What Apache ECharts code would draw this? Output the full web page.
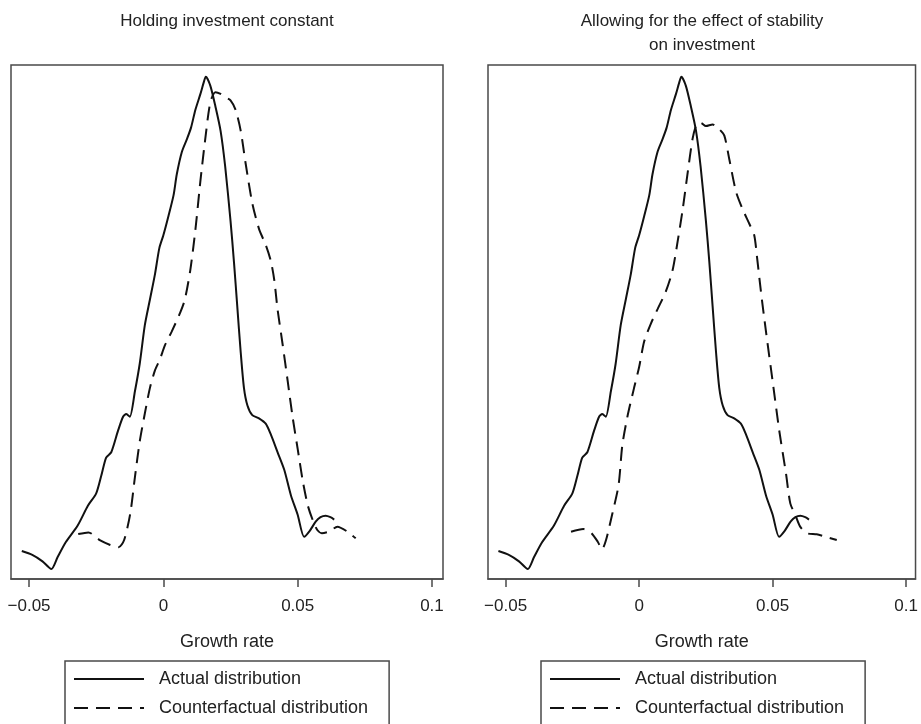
<!DOCTYPE html>
<html>
<head>
<meta charset="utf-8">
<title>Growth rate distributions</title>
<script src="https://cdn.jsdelivr.net/npm/echarts@6/dist/echarts.min.js"></script>
<style>
  html, body { margin: 0; padding: 0; background: #ffffff; }
  #chart { width: 921px; height: 724px; }
</style>
</head>
<body>
<div id="chart"></div>
<script>
// Panel titles
const panelTitles = [
  'Holding investment constant',
  'Allowing for the effect of stability\non investment'
];
const seriesNames = ['Actual distribution', 'Counterfactual distribution'];
const xTicks = [-0.05, 0, 0.05, 0.1];
const xAxisName = 'Growth rate';

// Kernel density of observed growth rates: [growth rate, density]
const actualDensity = [
  [-0.0527, 1.74], [-0.0488, 1.5], [-0.045, 1.1], [-0.0417, 0.62], [-0.0394, 1.35],
  [-0.0363, 2.3], [-0.0319, 3.33], [-0.0281, 4.56], [-0.025, 5.33], [-0.0231, 6.44],
  [-0.0213, 7.56], [-0.0194, 7.89], [-0.0169, 9.22], [-0.015, 10.1], [-0.0138, 10.27],
  [-0.0125, 10.1], [-0.0106, 11.67], [-0.0088, 13.4], [-0.0069, 15.8], [-0.005, 17.4],
  [-0.0031, 19.0], [-0.0015, 20.6], [0, 21.4], [0.0019, 22.6], [0.0038, 23.9],
  [0.005, 25.2], [0.0069, 26.6], [0.0088, 27.4], [0.0103, 28.1], [0.0119, 29.2],
  [0.0138, 30.2], [0.015, 30.9], [0.0158, 31.27], [0.0175, 30.7], [0.0194, 29.4],
  [0.0213, 27.9], [0.023, 25.7], [0.025, 22.3], [0.0263, 19.7], [0.0275, 17.0],
  [0.0288, 14.1], [0.03, 11.9], [0.0313, 10.8], [0.0331, 10.2], [0.0356, 10.0],
  [0.0381, 9.67], [0.04, 9.0], [0.0425, 7.9], [0.045, 6.8], [0.0475, 5.2],
  [0.05, 4.0], [0.0524, 2.63], [0.0545, 3.0], [0.0567, 3.57], [0.0585, 3.85],
  [0.0604, 3.94], [0.0622, 3.85], [0.0636, 3.7]
];

// Counterfactual density, investment held constant
const counterfactualFixed = [
  [-0.0317, 2.8], [-0.0279, 2.9], [-0.0235, 2.4], [-0.0198, 2.12], [-0.0167, 1.97],
  [-0.0146, 2.43], [-0.0123, 4.1], [-0.0106, 6.33], [-0.0088, 8.56], [-0.0069, 10.3],
  [-0.005, 11.9], [-0.0031, 13.0], [-0.0013, 13.67], [0.0006, 14.56], [0.0031, 15.4],
  [0.0063, 16.6], [0.008, 17.4], [0.01, 19.2], [0.0119, 21.7], [0.0138, 24.8],
  [0.0156, 27.4], [0.0175, 29.7], [0.0194, 30.3], [0.0213, 30.2], [0.023, 30.0],
  [0.025, 29.8], [0.0269, 29.2], [0.0288, 27.9], [0.0306, 25.9], [0.0331, 23.4],
  [0.0356, 21.8], [0.0381, 20.8], [0.04, 19.8], [0.0413, 18.6], [0.0425, 16.8],
  [0.0444, 14.6], [0.0463, 12.3], [0.0481, 10.1], [0.05, 8.1], [0.0519, 6.1],
  [0.0538, 4.56], [0.0556, 3.67], [0.0573, 3.05], [0.059, 2.85], [0.0617, 2.95],
  [0.0648, 3.26], [0.0685, 2.95], [0.0716, 2.53]
];

// Counterfactual density, investment responding to stability
const counterfactualStability = [
  [-0.0255, 2.94], [-0.0209, 3.11], [-0.018, 2.88], [-0.0155, 2.32], [-0.0139, 1.85],
  [-0.0124, 2.43], [-0.01, 4.09], [-0.0077, 5.85], [-0.0063, 8.33], [-0.0044, 10.1],
  [-0.0019, 11.9], [0, 13.2], [0.0019, 14.8], [0.0044, 15.9], [0.0069, 16.8],
  [0.01, 17.9], [0.0125, 19.2], [0.0144, 21.0], [0.0163, 23.0], [0.0181, 25.2],
  [0.02, 27.4], [0.0215, 28.3], [0.0231, 28.4], [0.025, 28.2], [0.0275, 28.3],
  [0.03, 28.0], [0.0319, 27.6], [0.0338, 26.1], [0.0363, 24.1], [0.0388, 23.0],
  [0.0413, 22.1], [0.0431, 21.4], [0.0441, 20.1], [0.0456, 17.9], [0.0475, 15.4],
  [0.05, 12.3], [0.0525, 9.2], [0.055, 6.56], [0.0566, 4.71], [0.0585, 3.98],
  [0.0603, 3.26], [0.0628, 2.85], [0.0665, 2.78], [0.0697, 2.63], [0.074, 2.43]
];

const FONT = '"Liberation Sans", Arial, Helvetica, sans-serif';
const INK = '#111111';
const FRAME = '#4a4a4a';
const DASH = [14, 8];

const chart = echarts.init(document.getElementById('chart'), null, { renderer: 'canvas' });

function fmtTick(v) {
  if (v === 0) return '0';
  return (v < 0 ? '\u2212' : '') + String(Math.abs(v));
}

function xAxisFor(gridIndex, min, max) {
  return {
    type: 'value',
    gridIndex: gridIndex,
    min: min,
    max: max,
    name: xAxisName,
    nameLocation: 'middle',
    nameGap: 54,
    nameTextStyle: { fontFamily: FONT, fontSize: 18, color: '#222' },
    splitLine: { show: false },
    axisLine: { show: true, onZero: false, lineStyle: { color: FRAME, width: 1.5 } },
    axisTick: { show: true, inside: false, length: 8, customValues: xTicks,
                lineStyle: { color: FRAME, width: 1.5 } },
    axisLabel: { show: true, margin: 19, customValues: xTicks, formatter: fmtTick,
                 fontFamily: FONT, fontSize: 17, color: '#222' }
  };
}

function yAxisFor(gridIndex) {
  return {
    type: 'value', gridIndex: gridIndex, min: 0, max: 32,
    axisLine: { show: false }, axisTick: { show: false },
    axisLabel: { show: false }, splitLine: { show: false }
  };
}

function curve(name, data, idx, dashed) {
  return {
    name: name,
    type: 'line',
    xAxisIndex: idx,
    yAxisIndex: idx,
    data: data,
    smooth: 0.25,
    symbol: 'none',
    showSymbol: false,
    silent: true,
    lineStyle: { color: INK, width: 2, type: dashed ? DASH : 'solid' },
    itemStyle: { color: INK }
  };
}

// Boxed key below each panel; the box runs off the bottom edge
function legendFor(left) {
  return {
    show: true,
    type: 'plain',
    orient: 'vertical',
    left: left,
    top: 661,
    height: 120,
    data: seriesNames,
    itemWidth: 70,
    itemHeight: 18,
    itemGap: 11,
    padding: [9, 21, 30, 8],
    borderColor: FRAME,
    borderWidth: 1.5,
    borderRadius: 0,
    selectedMode: false,
    itemStyle: { color: 'transparent', borderColor: 'transparent', borderWidth: 0, opacity: 0 },
    textStyle: { fontFamily: FONT, fontSize: 18, color: '#222', padding: [0, 0, 0, 10] }
  };
}

const option = {
  backgroundColor: '#ffffff',
  animation: false,
  title: [
    { text: panelTitles[0], left: 222, top: 4, textAlign: 'center',
      textStyle: { fontFamily: FONT, fontSize: 17, fontWeight: 'normal', color: '#222', lineHeight: 24 } },
    { text: panelTitles[1], left: 697, top: 4, textAlign: 'center',
      textStyle: { fontFamily: FONT, fontSize: 17, fontWeight: 'normal', color: '#222', lineHeight: 24 } }
  ],
  grid: [
    { left: 11, top: 65, width: 432, height: 514, show: true,
      borderColor: FRAME, borderWidth: 1.5, backgroundColor: 'transparent' },
    { left: 488, top: 65, width: 429, height: 514, show: true,
      borderColor: FRAME, borderWidth: 1.5, backgroundColor: 'transparent' }
  ],
  xAxis: [xAxisFor(0, -0.05672, 0.1041), xAxisFor(1, -0.0566, 0.1035)],
  yAxis: [yAxisFor(0), yAxisFor(1)],
  legend: [legendFor(65), legendFor(541)],
  series: [
    curve(seriesNames[0], actualDensity, 0, false),
    curve(seriesNames[1], counterfactualFixed, 0, true),
    curve(seriesNames[0], actualDensity, 1, false),
    curve(seriesNames[1], counterfactualStability, 1, true)
  ]
};

chart.setOption(option);
</script>
</body>
</html>
